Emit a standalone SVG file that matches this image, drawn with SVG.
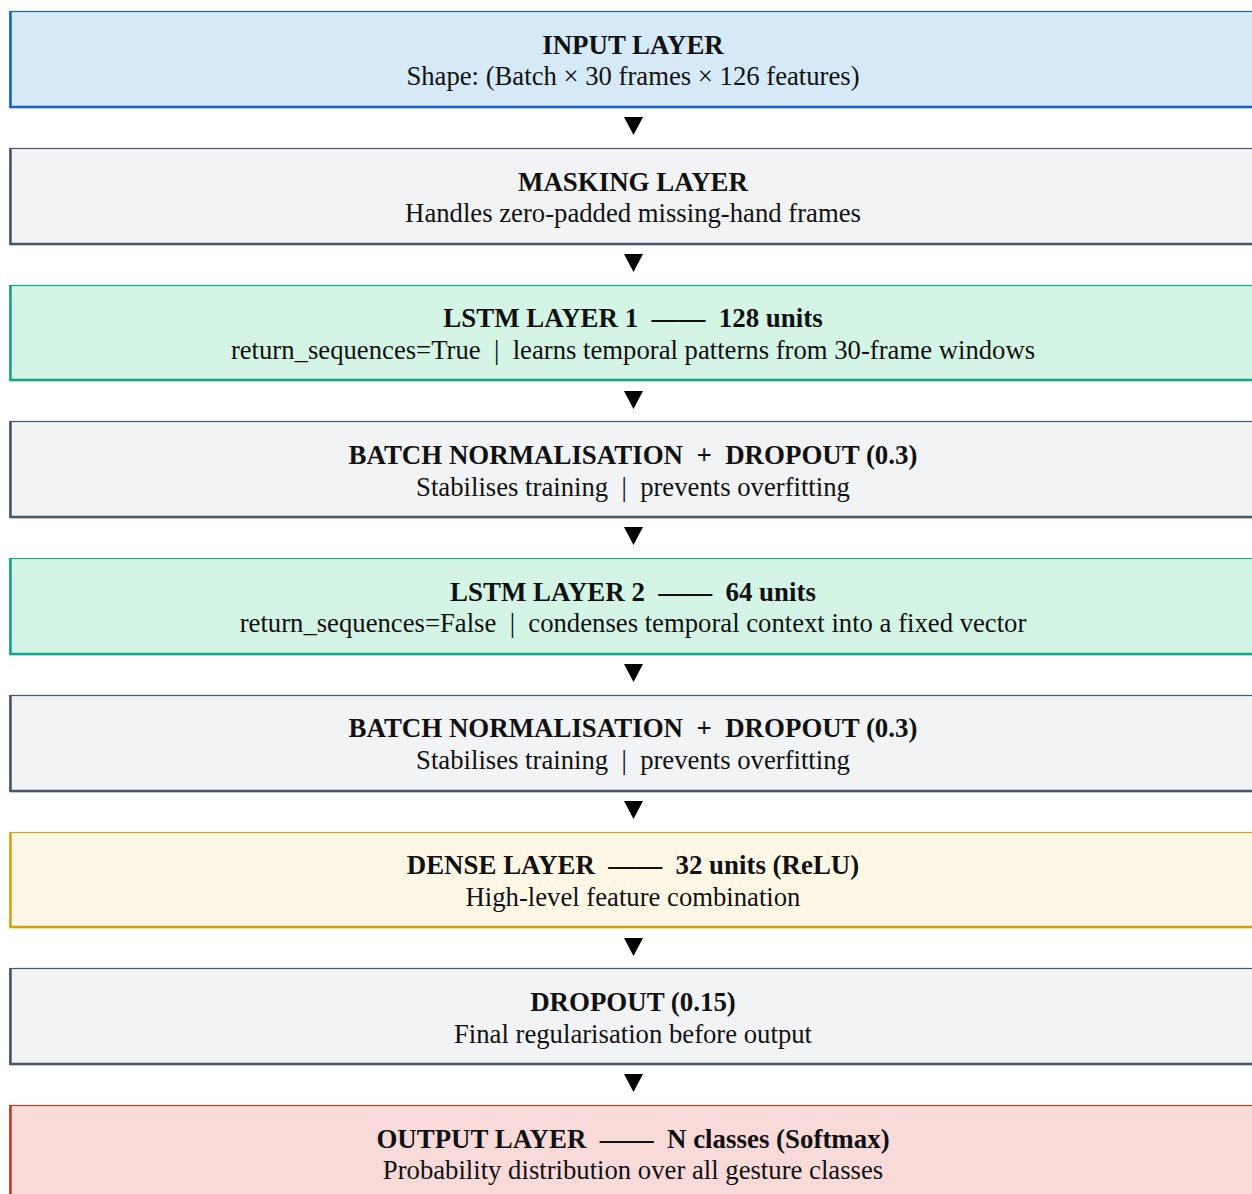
<svg xmlns="http://www.w3.org/2000/svg" width="1252" height="1194" viewBox="0 0 1252 1194">
<style>
.t{font-family:"Times New Roman","Liberation Serif",Times,serif;font-weight:bold;font-size:26.9px;fill:#111;text-anchor:middle;white-space:pre}
.s{font-family:"Times New Roman","Liberation Serif",Times,serif;font-size:26.7px;fill:#111;text-anchor:middle;white-space:pre}
.arr{fill:#000}
.blue rect{fill:#D6E9F7;stroke:#1565C0}
.blue line{stroke:#1565C0}
.gray rect{fill:#F1F3F5;stroke:#4A5568}
.gray line{stroke:#4A5568}
.green rect{fill:#D4F5E5;stroke:#17A589}
.green line{stroke:#17A589}
.yellow rect{fill:#FEF7E6;stroke:#D4A017}
.yellow line{stroke:#D4A017}
.red rect{fill:#F8DBD9;stroke:#C0392B}
.red line{stroke:#C0392B}
rect{stroke-width:1.2}
line{stroke-width:2.5}
</style>
<rect width="1252" height="1194" fill="#fff" stroke="none"/>
<g id="connectors">
<polygon class="arr" points="624,117 643,117 633.5,135"/>
<polygon class="arr" points="624,254 643,254 633.5,272"/>
<polygon class="arr" points="624,391 643,391 633.5,409"/>
<polygon class="arr" points="624,527 643,527 633.5,545"/>
<polygon class="arr" points="624,664 643,664 633.5,682"/>
<polygon class="arr" points="624,801 643,801 633.5,819"/>
<polygon class="arr" points="624,938 643,938 633.5,956"/>
<polygon class="arr" points="624,1074 643,1074 633.5,1092"/>
</g>
<g id="input" class="blue" transform="translate(0,11)">
<rect x="10" y="0.5" width="1260" height="96"/>
<line x1="10.5" y1="0" x2="10.5" y2="97"/><line x1="10" y1="96" x2="1260" y2="96"/>
<text class="t" x="633" y="43">INPUT LAYER</text>
<text class="s" x="633" y="74">Shape: (Batch × 30 frames × 126 features)</text>
</g>
<g id="masking" class="gray" transform="translate(0,148)">
<rect x="10" y="0.5" width="1260" height="96"/>
<line x1="10.5" y1="0" x2="10.5" y2="97"/><line x1="10" y1="96" x2="1260" y2="96"/>
<text class="t" x="633" y="43">MASKING LAYER</text>
<text class="s" x="633" y="74">Handles zero-padded missing-hand frames</text>
</g>
<g id="lstm1" class="green" transform="translate(0,285)">
<rect x="10" y="0.5" width="1260" height="95"/>
<line x1="10.5" y1="0" x2="10.5" y2="96"/><line x1="10" y1="95" x2="1260" y2="95"/>
<text class="t" x="633" y="42">LSTM LAYER 1  ——  128 units</text>
<text class="s" x="633" y="74">return_sequences=True  |  learns temporal patterns from 30-frame windows</text>
</g>
<g id="bn1" class="gray" transform="translate(0,421)">
<rect x="10" y="0.5" width="1260" height="96"/>
<line x1="10.5" y1="0" x2="10.5" y2="97"/><line x1="10" y1="96" x2="1260" y2="96"/>
<text class="t" x="633" y="43">BATCH NORMALISATION  +  DROPOUT (0.3)</text>
<text class="s" x="633" y="75">Stabilises training  |  prevents overfitting</text>
</g>
<g id="lstm2" class="green" transform="translate(0,558)">
<rect x="10" y="0.5" width="1260" height="96"/>
<line x1="10.5" y1="0" x2="10.5" y2="97"/><line x1="10" y1="96" x2="1260" y2="96"/>
<text class="t" x="633" y="43">LSTM LAYER 2  ——  64 units</text>
<text class="s" x="633" y="74">return_sequences=False  |  condenses temporal context into a fixed vector</text>
</g>
<g id="bn2" class="gray" transform="translate(0,695)">
<rect x="10" y="0.5" width="1260" height="96"/>
<line x1="10.5" y1="0" x2="10.5" y2="97"/><line x1="10" y1="96" x2="1260" y2="96"/>
<text class="t" x="633" y="42">BATCH NORMALISATION  +  DROPOUT (0.3)</text>
<text class="s" x="633" y="74">Stabilises training  |  prevents overfitting</text>
</g>
<g id="dense" class="yellow" transform="translate(0,832)">
<rect x="10" y="0.5" width="1260" height="95"/>
<line x1="10.5" y1="0" x2="10.5" y2="96"/><line x1="10" y1="95" x2="1260" y2="95"/>
<text class="t" x="633" y="42">DENSE LAYER  ——  32 units (ReLU)</text>
<text class="s" x="633" y="74">High-level feature combination</text>
</g>
<g id="dropout" class="gray" transform="translate(0,968)">
<rect x="10" y="0.5" width="1260" height="96"/>
<line x1="10.5" y1="0" x2="10.5" y2="97"/><line x1="10" y1="96" x2="1260" y2="96"/>
<text class="t" x="633" y="43">DROPOUT (0.15)</text>
<text class="s" x="633" y="75">Final regularisation before output</text>
</g>
<g id="output" class="red" transform="translate(0,1105)">
<rect x="10" y="0.5" width="1260" height="100"/>
<line x1="10.5" y1="0" x2="10.5" y2="100"/>
<text class="t" x="633" y="43">OUTPUT LAYER  ——  N classes (Softmax)</text>
<text class="s" x="633" y="74">Probability distribution over all gesture classes</text>
</g>
</svg>
